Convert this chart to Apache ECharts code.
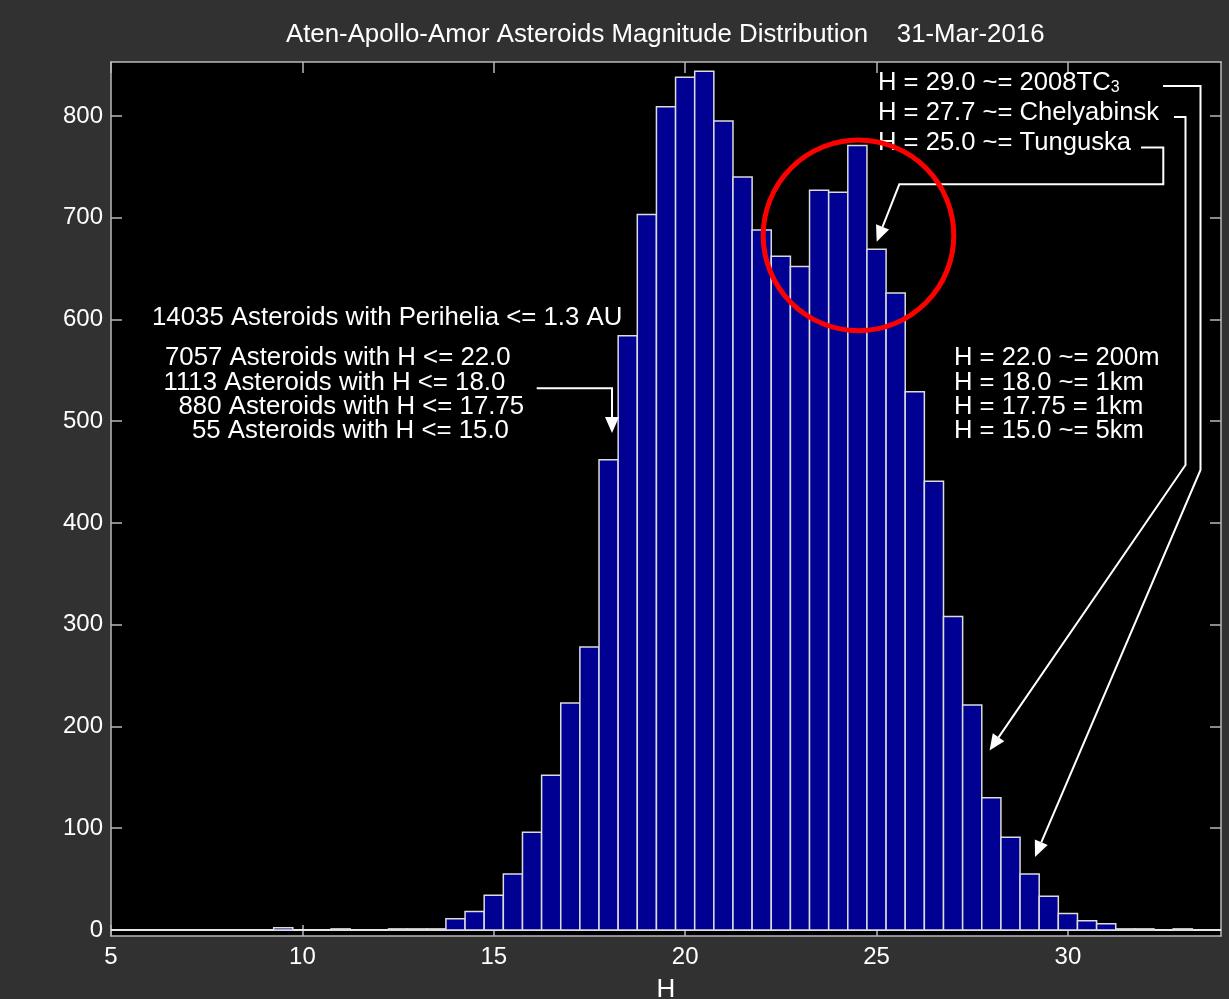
<!DOCTYPE html>
<html><head><meta charset="utf-8">
<script src="https://cdn.jsdelivr.net/npm/echarts@6/dist/echarts.min.js"></script>
<style>html,body{margin:0;padding:0;background:#313131}#c{width:1229px;height:999px}</style>
</head><body><div id="c"></div>
<script>
// ---- data ----
const binCenters = [9.5, 11, 12.5, 13, 13.5, 14, 14.5, 15, 15.5, 16, 16.5, 17, 17.5, 18, 18.5, 19, 19.5, 20, 20.5, 21, 21.5, 22, 22.5, 23, 23.5, 24, 24.5, 25, 25.5, 26, 26.5, 27, 27.5, 28, 28.5, 29, 29.5, 30, 30.5, 31, 31.5, 32, 33];
const counts     = [2, 1, 1, 1, 1, 11, 18, 34, 55, 96, 152, 223, 278, 462, 584, 703, 809, 838, 844, 795, 740, 688, 662, 652, 727, 725, 771, 669, 626, 529, 441, 308, 221, 130, 91, 55, 33, 16, 9, 6, 1, 1, 1];
const binWidth = 0.5;
const xTicks = [5, 10, 15, 20, 25, 30];
const yTicks = [0, 100, 200, 300, 400, 500, 600, 700, 800];
const titleText = 'Aten-Apollo-Amor Asteroids Magnitude Distribution    31-Mar-2016';
const xName = 'H';
const leftNotes = [
  '14035 Asteroids with Perihelia <= 1.3 AU',
  '7057 Asteroids with H <= 22.0',
  '1113 Asteroids with H <= 18.0',
  '880 Asteroids with H <= 17.75',
  '55 Asteroids with H <= 15.0'
];
const rightNotes = ['H = 22.0 ~= 200m', 'H = 18.0 ~= 1km', 'H = 17.75 = 1km', 'H = 15.0 ~= 5km'];
const topNotes = ['H = 29.0 ~= 2008TC{s|3}', 'H = 27.7 ~= Chelyabinsk', 'H = 25.0 ~= Tunguska'];

// ---- styling ----
const FONT = "'Liberation Sans', Arial, Helvetica, sans-serif";
const axisColor = '#b8b8b8';
const W = '#ffffff';

function txt(x, y, text, size, align, extra) {
  return Object.assign({
    type: 'text', x: x, y: y, z: 50,
    style: { text: text, fill: W, font: size + 'px ' + FONT, textAlign: align || 'left', textVerticalAlign: 'middle' }
  }, extra || {});
}
function arrowLine(pts) {
  const n = pts.length, tip = pts[n - 1], prev = pts[n - 2];
  const dx = tip[0] - prev[0], dy = tip[1] - prev[1], L = Math.hypot(dx, dy);
  const ux = dx / L, uy = dy / L, hl = 16, hw = 7;
  const base = [tip[0] - ux * hl, tip[1] - uy * hl];
  const line = pts.slice(0, n - 1).concat([base]);
  return [
    { type: 'polyline', z: 40, shape: { points: line }, style: { stroke: W, lineWidth: 2, fill: null } },
    { type: 'polygon', z: 41, shape: { points: [tip, [base[0] - uy * hw, base[1] + ux * hw], [base[0] + uy * hw, base[1] - ux * hw]] }, style: { fill: W } }
  ];
}

const graphics = [];
graphics.push(txt(286, 35, titleText, 25.8, 'left'));
const leftX = [152, 165, 163.5, 178.5, 192];
const leftY = [318, 358, 383, 407, 431];
leftNotes.forEach((t, i) => graphics.push(txt(leftX[i], leftY[i], t, 25.8, 'left')));
const rightY = [358, 383, 407, 431];
rightNotes.forEach((t, i) => graphics.push(txt(954, rightY[i], t, 25.6, 'left')));
const topY = [83, 113, 143];
topNotes.forEach((t, i) => graphics.push({
  type: 'text', x: 878, y: topY[i], z: 50,
  style: {
    text: t, fill: W, font: '25.6px ' + FONT, textVerticalAlign: 'middle',
    rich: { s: { fontSize: 16, fontFamily: FONT, fill: W, lineHeight: 14, verticalAlign: 'bottom' } }
  }
}));
// connectors
arrowLine([[1163, 86], [1200.5, 86], [1200.5, 470], [1035, 857]]).forEach(g => graphics.push(g));
arrowLine([[1174, 117], [1185.5, 117], [1185.5, 465], [989.5, 750.5]]).forEach(g => graphics.push(g));
arrowLine([[1141, 147.5], [1163.3, 147.5], [1163.3, 184.3], [899.3, 184.3], [876.7, 241.7]]).forEach(g => graphics.push(g));
arrowLine([[536.7, 388.3], [612, 388.3], [612, 433]]).forEach(g => graphics.push(g));
// red circle
graphics.push({ type: 'circle', z: 60, shape: { cx: 858.5, cy: 235.4, r: 95.3 }, style: { stroke: '#ff0000', lineWidth: 5, fill: null } });

const chart = echarts.init(document.getElementById('c'), null, { renderer: 'canvas' });
function axisCommon(extra) {
  return Object.assign({
    axisLine: { show: true, onZero: false, lineStyle: { color: axisColor, width: 1.5 } },
    splitLine: { show: false }
  }, extra);
}
chart.setOption({
  backgroundColor: '#313131',
  animation: false,
  grid: { left: 111, right: 8, top: 62, bottom: 63, containLabel: false, outerBoundsMode: 'none', show: true, backgroundColor: '#000000', borderWidth: 0 },
  xAxis: [
    axisCommon({
      type: 'value', min: 5, max: 34, position: 'bottom',
      axisTick: { show: true, inside: true, length: 11, customValues: xTicks, lineStyle: { color: axisColor, width: 1.5 } },
      axisLabel: { customValues: xTicks, color: W, fontSize: 24, fontFamily: FONT, margin: 9 },
      name: xName, nameLocation: 'middle', nameGap: 41,
      nameTextStyle: { color: W, fontSize: 26, fontFamily: FONT, verticalAlign: 'top' }
    }),
    axisCommon({
      type: 'value', min: 5, max: 34, position: 'top',
      axisTick: { show: true, inside: true, length: 11, customValues: xTicks, lineStyle: { color: axisColor, width: 1.5 } },
      axisLabel: { show: false, customValues: xTicks }
    })
  ],
  yAxis: [
    axisCommon({
      type: 'value', min: -6, max: 853, position: 'left',
      axisTick: { show: true, inside: true, length: 11, customValues: yTicks, lineStyle: { color: axisColor, width: 1.5 } },
      axisLabel: { customValues: yTicks, color: W, fontSize: 24, fontFamily: FONT, margin: 8 }
    }),
    axisCommon({
      type: 'value', min: -6, max: 853, position: 'right',
      axisTick: { show: true, inside: true, length: 11, customValues: yTicks, lineStyle: { color: axisColor, width: 1.5 } },
      axisLabel: { show: false, customValues: yTicks }
    })
  ],
  series: [
    {
      type: 'line', xAxisIndex: 0, yAxisIndex: 0, z: 1, silent: true, symbol: 'none',
      data: [[5, 0], [34, 0]], lineStyle: { color: '#e8e8e8', width: 2 }
    },
    {
      type: 'custom', xAxisIndex: 0, yAxisIndex: 0, z: 2,
      data: binCenters.map((c, i) => [c, counts[i]]),
      renderItem: function (params, api) {
        const c = api.value(0), v = api.value(1);
        const p0 = api.coord([c - binWidth / 2, v]);
        const p1 = api.coord([c + binWidth / 2, 0]);
        return {
          type: 'rect',
          shape: { x: p0[0], y: p0[1], width: p1[0] - p0[0], height: p1[1] - p0[1] },
          style: { fill: '#000092', stroke: '#dcdcdc', lineWidth: 1.5 }
        };
      }
    }
  ],
  graphic: graphics
});
</script>
</body></html>
